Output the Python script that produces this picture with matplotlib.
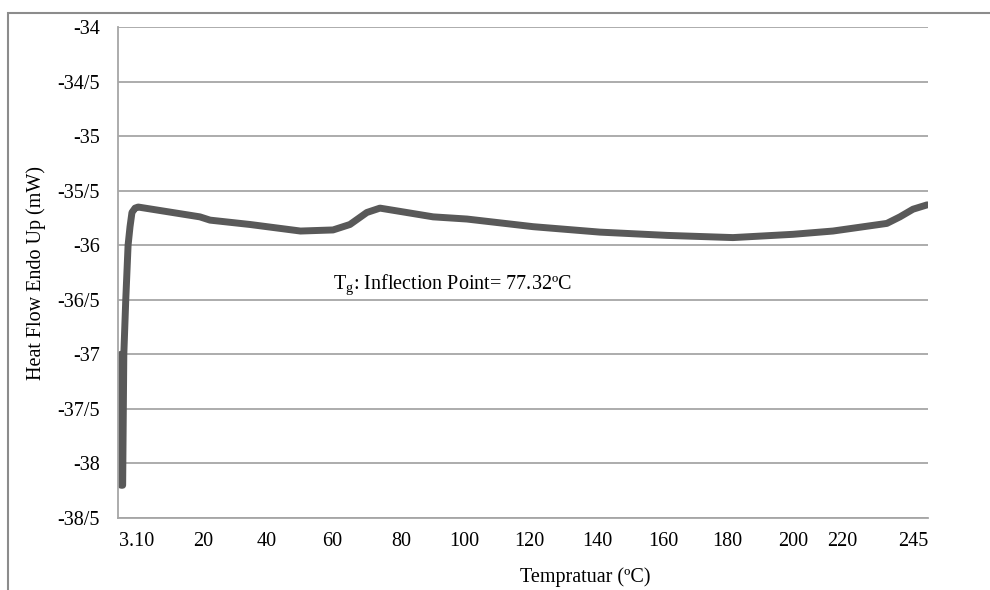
import matplotlib.pyplot as plt
import numpy as np
from matplotlib.patches import Rectangle

plt.rcParams['font.family'] = ['Liberation Serif', 'DejaVu Serif']
plt.rcParams['mathtext.fontset'] = 'custom'
plt.rcParams['mathtext.rm'] = 'Liberation Serif'

# DSC curve
temp = [-1.1, -1.0, -0.6, -0.3, 0.2, 0.8, 1.3, 1.8, 2.6, 3.4, 19.2, 22.2, 34.7, 50.3,
        60.3, 65.2, 70.1, 73.9, 79.7, 90.2, 100.9, 121.2, 140.9, 161.3, 181.8,
        200.0, 216.3, 235.8, 240.4, 245.0, 250.0]
heat = [-37.0, -38.2, -38.2, -37.0, -36.5, -36.0, -35.83, -35.70, -35.66, -35.65,
        -35.74, -35.77, -35.81, -35.87, -35.86, -35.81, -35.70, -35.66, -35.69,
        -35.74, -35.76, -35.83, -35.88, -35.91, -35.93, -35.90, -35.87, -35.80,
        -35.74, -35.67, -35.63]

x_ticks = [3.1, 20, 40, 60, 80, 100, 120, 140, 160, 180, 200, 220, 245]
x_labels = ['3.10', '20', '40', '60', '80', '100', '120', '140', '160', '180', '200', '220', '245']
y_ticks = [-38.5, -38, -37.5, -37, -36.5, -36, -35.5, -35, -34.5, -34]

# the original axis is not evenly spaced: piecewise map temperature -> axis position
T_KNOTS = np.array([-1.8] + x_ticks + [250.3])
P_KNOTS = np.array([118, 137, 203, 267, 332, 401, 464, 529, 597, 663, 727, 793, 842, 913, 928], float)


def fwd(t):
    return np.interp(t, T_KNOTS, P_KNOTS)


def inv(p):
    return np.interp(p, P_KNOTS, T_KNOTS)


def ylab(v):
    whole = int(v)
    if v == whole:
        return f'{whole}'
    return f'{whole}/5'


FS = 14.5
fig = plt.figure(figsize=(9.9, 5.9), dpi=100)
ax = fig.add_axes([118 / 990, 1 - 518 / 590, (928 - 118) / 990, (518 - 27) / 590])
ax.set_xscale('function', functions=(fwd, inv))

ax.plot(temp, heat, color='#595959', lw=5, solid_capstyle='round', solid_joinstyle='round')

ax.set_xlim(-1.8, 250.3)
ax.set_ylim(-38.5, -34)
ax.set_xticks(x_ticks)
ax.set_xticklabels(x_labels)
ax.set_yticks(y_ticks)
ax.set_yticklabels([ylab(v) for v in y_ticks])
ax.tick_params(length=0, labelsize=FS, colors='black')
ax.tick_params(axis='x', pad=10)
ax.tick_params(axis='y', pad=13)
ax.yaxis.grid(True, color='#a6a6a6', lw=1.3)
ax.set_axisbelow(True)
for s in ['top', 'right']:
    ax.spines[s].set_visible(False)
for s in ['left', 'bottom']:
    ax.spines[s].set_color('#a6a6a6')
    ax.spines[s].set_linewidth(1.3)

ax.text(inv(333), -36.36, r'T$_{\mathrm{g}}$: Inflection Point= 77.32ºC', fontsize=FS, va='center')

fig.text(36 / 990, 1 - 273 / 590, 'Heat Flow Endo Up (mW)', rotation=90,
         ha='center', va='center', fontsize=FS)
fig.text(585 / 990, 1 - 577 / 590, 'Tempratuar (ºC)', ha='center', va='center', fontsize=FS)

# outer chart frame
fig.patches.append(Rectangle((8 / 990, -0.2), 1.2, 1 - 13 / 590 + 0.2, transform=fig.transFigure,
                             fill=False, edgecolor='#8c8c8c', lw=1.5))

fig.savefig('out.png', dpi=100)
